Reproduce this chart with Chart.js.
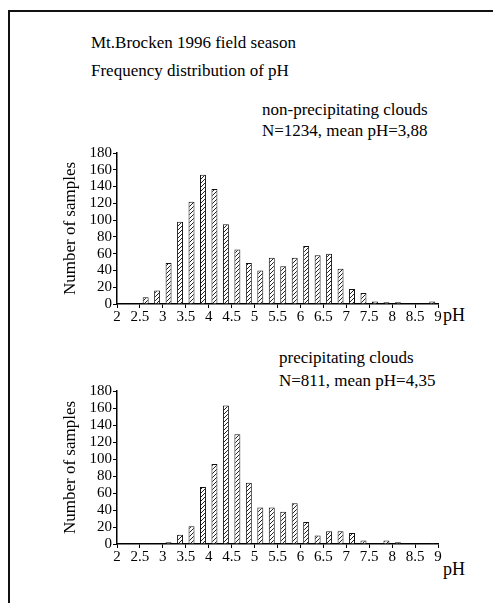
<!DOCTYPE html>
<html>
<head>
<meta charset="utf-8">
<script src="https://cdn.jsdelivr.net/npm/chart.js@4.4.0/dist/chart.umd.min.js"></script>
<style>
    body { margin: 0; background: #fff; width: 493px; height: 603px; overflow: hidden; position: relative; font-family: "Liberation Serif", "Times New Roman", serif; color: #000; }
    .frame { position: absolute; left: 8px; top: 10px; width: 600px; height: 700px; border-left: 2px solid #111; border-top: 2px solid #111; }
    .txt { position: absolute; font-size: 17px; line-height: 1; white-space: nowrap; }
    canvas { position: absolute; left: 0; }
</style>
</head>
<body>
<div class="frame"></div>
<div class="txt" style="left:91px; top:34px;">Mt.Brocken 1996 field season</div>
<div class="txt" style="left:91px; top:62px;">Frequency distribution of pH</div>
<div class="txt" style="left:262px; top:101px;">non-precipitating clouds</div>
<div class="txt" style="left:262px; top:122px;">N=1234, mean pH=3,88</div>
<div class="txt" style="left:279px; top:349px;">precipitating clouds</div>
<div class="txt" style="left:279px; top:372px;">N=811, mean pH=4,35</div>
<div class="txt" style="left:443px; top:306px; font-size:18px;">pH</div>
<div class="txt" style="left:443px; top:560px; font-size:18px;">pH</div>

<div style="position:absolute; left:0; top:140px; width:493px; height:200px;"><canvas id="graficoNaoPrecip"></canvas></div>
<div style="position:absolute; left:0; top:378px; width:493px; height:200px;"><canvas id="graficoPrecip"></canvas></div>

<script>
// centros das classes de pH (largura 0,25)
const classesPH = [2.625, 2.875, 3.125, 3.375, 3.625, 3.875, 4.125, 4.375, 4.625, 4.875,
    5.125, 5.375, 5.625, 5.875, 6.125, 6.375, 6.625, 6.875, 7.125, 7.375,
    7.625, 7.875, 8.125, 8.375, 8.625, 8.875];

const amostrasNaoPrecip = [8, 16, 49, 98, 122, 154, 137, 95, 65, 49,
    40, 55, 45, 55, 69, 58, 60, 42, 18, 13,
    3, 2, 2, 0, 0, 3];

const amostrasPrecip = [0, 0, 2, 11, 21, 67, 94, 163, 129, 72,
    43, 43, 38, 48, 26, 10, 15, 15, 13, 4,
    0, 4, 2, 0, 0, 1];

const ticksY = [0, 20, 40, 60, 80, 100, 120, 140, 160, 180];
const ticksX = [2, 2.5, 3, 3.5, 4, 4.5, 5, 5.5, 6, 6.5, 7, 7.5, 8, 8.5, 9];

function criarHachura() {
    const c = document.createElement('canvas');
    c.width = 4;
    c.height = 4;
    const g = c.getContext('2d');
    g.fillStyle = '#fff';
    g.fillRect(0, 0, 4, 4);
    g.strokeStyle = '#222';
    g.lineWidth = 1;
    g.beginPath();
    g.moveTo(0, 4); g.lineTo(4, 0);
    g.moveTo(-1, 1); g.lineTo(1, -1);
    g.moveTo(3, 5); g.lineTo(5, 3);
    g.stroke();
    return g.createPattern(c, 'repeat');
}

function criarGrafico(id, valores, alturaEixoX) {
    const ctx = document.getElementById(id).getContext('2d');
    const fonte = { family: '"Liberation Serif", "Times New Roman", serif', size: 15 };

    return new Chart(ctx, {
        type: 'bar',
        data: {
            datasets: [{
                data: classesPH.map((x, i) => ({ x: x, y: valores[i] })),
                backgroundColor: criarHachura(),
                borderColor: '#111',
                borderWidth: 1,
                borderSkipped: 'start',
                barPercentage: 0.52,
                categoryPercentage: 1.0
            }]
        },
        options: {
            responsive: true,
            maintainAspectRatio: false,
            animation: false,
            layout: { padding: { left: 60, right: 55, top: 13, bottom: 4 } },
            plugins: {
                legend: { display: false },
                tooltip: { enabled: false }
            },
            scales: {
                x: {
                    type: 'linear',
                    offset: false,
                    min: 2,
                    max: 9,
                    afterBuildTicks: scale => { scale.ticks = ticksX.map(v => ({ value: v })); },
                    afterFit: scale => { scale.height = alturaEixoX; },
                    border: { color: '#000', width: 1.5 },
                    grid: { drawOnChartArea: false, drawTicks: true, tickLength: 4, color: '#000', offset: false },
                    ticks: {
                        color: '#000',
                        font: fonte,
                        padding: 0,
                        maxRotation: 0,
                        autoSkip: false,
                        callback: v => String(v)
                    }
                },
                y: {
                    min: 0,
                    max: 180,
                    afterBuildTicks: scale => { scale.ticks = ticksY.map(v => ({ value: v })); },
                    afterFit: scale => { scale.width = 57; },
                    border: { color: '#000', width: 1.5 },
                    grid: { drawOnChartArea: false, drawTicks: true, tickLength: 4, color: '#000' },
                    ticks: { color: '#000', font: fonte, padding: 1, autoSkip: false },
                    title: {
                        display: true,
                        text: 'Number of samples',
                        color: '#000',
                        font: { family: fonte.family, size: 17 },
                        padding: { top: 0, bottom: 0 }
                    }
                }
            }
        }
    });
}

document.addEventListener('DOMContentLoaded', function () {
    criarGrafico('graficoNaoPrecip', amostrasNaoPrecip, 32);
    criarGrafico('graficoPrecip', amostrasPrecip, 30);
});
</script>
</body>
</html>
